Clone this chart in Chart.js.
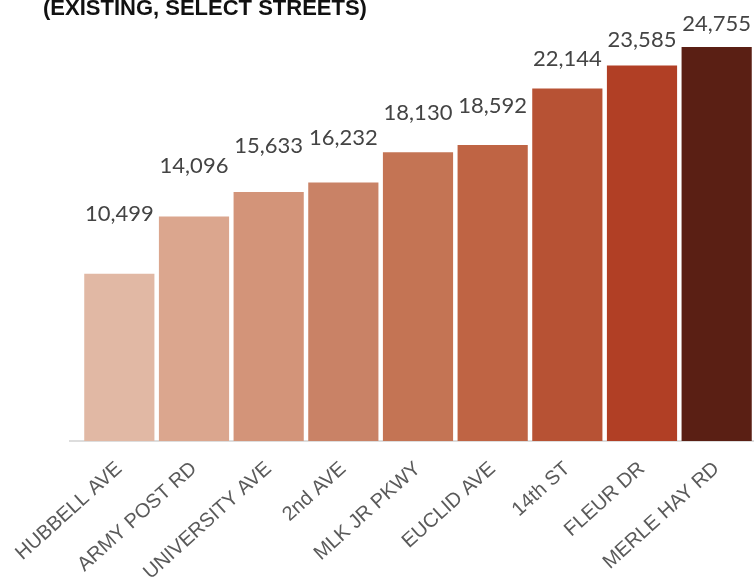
<!DOCTYPE html>
<html>
<head>
<meta charset="utf-8">
<script src="https://cdn.jsdelivr.net/npm/chart.js@4/dist/chart.umd.min.js"></script>
<style>
  html, body { margin: 0; padding: 0; background: #ffffff; }
  #wrap { position: relative; width: 755px; height: 581px; overflow: hidden; }
  #heading {
    position: absolute; left: 43px; top: -3px; margin: 0;
    font-family: "Liberation Sans", sans-serif; font-weight: bold; font-size: 22px;
    line-height: 22px; color: #111111; white-space: nowrap;
  }
  canvas { position: absolute; left: 0; top: 0; }
</style>
</head>
<body>
<div id="wrap">
  <canvas id="chart" width="755" height="581"></canvas>
  <div id="heading">(EXISTING, SELECT STREETS)</div>
</div>
<script>
// Daily traffic volumes by street
const streets = ["HUBBELL AVE", "ARMY POST RD", "UNIVERSITY AVE", "2nd AVE", "MLK JR PKWY",
                 "EUCLID AVE", "14th ST", "FLEUR DR", "MERLE HAY RD"];
const volumes = [10499, 14096, 15633, 16232, 18130, 18592, 22144, 23585, 24755];
const barColors = ["#e1b8a4", "#dba68e", "#d39479", "#c98266", "#c47454",
                   "#bf6444", "#b75234", "#b13f25", "#5a1f14"];
const axisMax = 25000;

// Value labels above each bar; shorter bars get a taller lift
const valueLabels = {
  id: "valueLabels",
  afterDatasetsDraw(chart) {
    const ctx = chart.ctx;
    const meta = chart.getDatasetMeta(0);
    ctx.save();
    ctx.font = "22px Lato, sans-serif";
    ctx.fillStyle = "#444444";
    ctx.textAlign = "center";
    ctx.textBaseline = "middle";
    meta.data.forEach((bar, i) => {
      const v = volumes[i];
      const lift = 22 + 0.0026 * (axisMax - v);
      ctx.fillText(v.toLocaleString("en-US"), bar.x, bar.y - lift);
    });
    ctx.restore();
  }
};

// Light baseline running under the bars
const baseLine = {
  id: "baseLine",
  beforeDatasetsDraw(chart) {
    const ctx = chart.ctx;
    const y = chart.scales.y.getPixelForValue(0);
    ctx.save();
    ctx.strokeStyle = "#dddddd";
    ctx.lineWidth = 2;
    ctx.beginPath();
    ctx.moveTo(chart.chartArea.left - 13, y);
    ctx.lineTo(chart.chartArea.right, y);
    ctx.stroke();
    ctx.restore();
  }
};

new Chart(document.getElementById("chart"), {
  type: "bar",
  data: {
    labels: streets,
    datasets: [{
      data: volumes,
      backgroundColor: barColors,
      borderWidth: 0,
      categoryPercentage: 1.0,
      barPercentage: 0.94
    }]
  },
  options: {
    responsive: false,
    animation: false,
    devicePixelRatio: 1,
    layout: { padding: { left: 82, right: 1, top: 43, bottom: 0 } },
    plugins: { legend: { display: false }, tooltip: { enabled: false }, title: { display: false } },
    scales: {
      y: { display: false, min: 0, max: axisMax },
      x: {
        grid: { display: false, drawTicks: false },
        border: { display: false },
        ticks: {
          minRotation: 42, maxRotation: 42, autoSkip: false, padding: 16,
          color: "#5a5a5a",
          font: { family: "'Liberation Sans', sans-serif", size: 20 }
        },
        afterFit(scale) {
          scale.height = 140;
          scale.paddingLeft = 0;
          scale.paddingRight = 0;
        }
      }
    }
  },
  plugins: [baseLine, valueLabels]
});
</script>
</body>
</html>
